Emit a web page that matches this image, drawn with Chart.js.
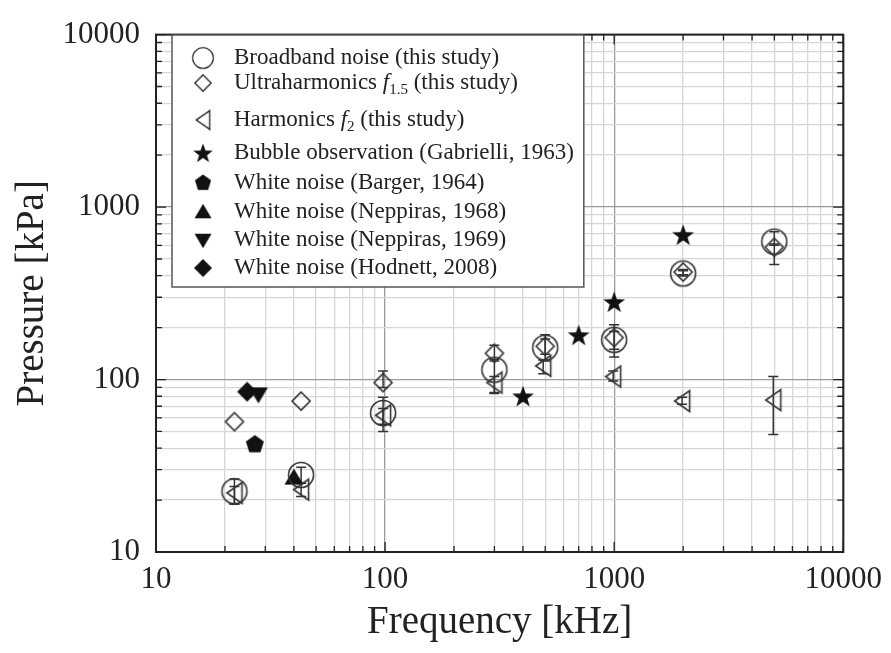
<!DOCTYPE html>
<html>
<head>
<meta charset="utf-8">
<title>Pressure threshold vs frequency</title>
<script src="https://cdn.jsdelivr.net/npm/chart.js@4.4.1/dist/chart.umd.min.js"></script>
<style>
  html, body { margin: 0; padding: 0; background: #fff; }
  canvas { display: block; }
</style>
</head>
<body>
<canvas id="pressureChart" width="891" height="653"></canvas>
<script>
// axis ticks (log decades + minor steps)
const decadeTicks = [10, 100, 1000, 10000];
const minorSteps = [1, 2, 3, 4, 5, 6, 7, 8, 9];

// this study
const studyFreq = [22, 43, 98, 300, 500, 1000, 2000, 5000];
const broadband = [22.5, 28, 64, 114, 153, 170, 412, 630];
const broadbandLow = [19, 25, 50, 84, 128, 135, 398, 600];
const broadbandHigh = [26.5, 31, 79, 131, 182, 208, 428, 720];

const ultraharm = [57, 75, 96, 142, 156, 175, 420, 585];
const ultraLow = [57, 75, 90, 128, 140, 150, 405, 465];
const ultraHigh = [57, 75, 112, 158, 172, 190, 435, 610];

const harmonicFreq = [22, 43, 98, 300, 490, 990, 1980, 4950];
const harmonic = [22, 23, 62, 96, 120, 104, 75, 76];
const harmonicLow = [19, 21, 55, 83, 108, 98, 72, 48];
const harmonicHigh = [24, 25, 68, 104, 130, 112, 79, 104];

// literature
const gabrielliFreq = [400, 700, 1000, 2000];
const gabrielliP = [80, 181, 282, 690];
const bargerFreq = [27];
const bargerP = [42];
const nepp68Freq = [40];
const nepp68P = [27];
const nepp69Freq = [28];
const nepp69P = [82];
const hodnettFreq = [25];
const hodnettP = [85];

const seriesLabels = [
  'Broadband noise (this study)',
  'Ultraharmonics f1.5 (this study)',
  'Harmonics f2 (this study)',
  'Bubble observation (Gabrielli, 1963)',
  'White noise (Barger, 1964)',
  'White noise (Neppiras, 1968)',
  'White noise (Neppiras, 1969)',
  'White noise (Hodnett, 2008)',
];

const SERIF = '"Liberation Serif", "Times New Roman", serif';
const INK = '#222';
const OPEN = '#333';

Chart.defaults.font.family = SERIF;
Chart.defaults.color = INK;

// ---- marker images ----
function makeMarker(size, draw) {
  const c = document.createElement('canvas');
  c.width = size; c.height = size;
  const g = c.getContext('2d');
  g.translate(size / 2, size / 2);
  draw(g);
  return c;
}
function poly(g, pts) {
  g.beginPath();
  pts.forEach(([px, py], i) => i ? g.lineTo(px, py) : g.moveTo(px, py));
  g.closePath();
}
function regular(n, r, rot) {
  const pts = [];
  for (let i = 0; i < n; i++) {
    const a = rot + i * 2 * Math.PI / n;
    pts.push([r * Math.cos(a), r * Math.sin(a)]);
  }
  return pts;
}
function openStroke(g) { g.strokeStyle = OPEN; g.lineWidth = 1.6; g.stroke(); }
function solidFill(g) { g.fillStyle = '#111'; g.fill(); }

const markers = {
  circle: makeMarker(30, g => { g.beginPath(); g.arc(0, 0, 12.5, 0, Math.PI * 2); openStroke(g); }),
  diamond: makeMarker(22, g => { poly(g, [[0, -9], [9, 0], [0, 9], [-9, 0]]); openStroke(g); }),
  triLeft: makeMarker(26, g => { poly(g, [[-7.5, 0], [7.5, -10.5], [7.5, 10.5]]); openStroke(g); }),
  star: makeMarker(26, g => {
    const pts = [];
    for (let i = 0; i < 10; i++) {
      const r = i % 2 ? 4.6 : 11.5;
      const a = -Math.PI / 2 + i * Math.PI / 5;
      pts.push([r * Math.cos(a), r * Math.sin(a) + 1]);
    }
    poly(g, pts); solidFill(g);
  }),
  pentagon: makeMarker(24, g => { poly(g, regular(5, 9.5, -Math.PI / 2)); solidFill(g); }),
  triUp: makeMarker(26, g => { poly(g, [[0, -9], [9.5, 7], [-9.5, 7]]); solidFill(g); }),
  triDown: makeMarker(26, g => { poly(g, [[0, 9], [9.5, -7], [-9.5, -7]]); solidFill(g); }),
  diamondFill: makeMarker(24, g => { poly(g, [[0, -10], [10, 0], [0, 10], [-10, 0]]); solidFill(g); }),
};

function points(xs, ys) { return xs.map((x, i) => ({ x, y: ys[i] })); }

const datasets = [
  { label: seriesLabels[0], data: points(studyFreq, broadband), pointStyle: markers.circle,
    errLow: broadbandLow, errHigh: broadbandHigh,
    rich: [['Broadband noise (this study)', 'n']] },
  { label: seriesLabels[1], data: points(studyFreq, ultraharm), pointStyle: markers.diamond,
    errLow: ultraLow, errHigh: ultraHigh,
    rich: [['Ultraharmonics ', 'n'], ['f', 'i'], ['1.5', 'sub'], [' (this study)', 'n']] },
  { label: seriesLabels[2], data: points(harmonicFreq, harmonic), pointStyle: markers.triLeft,
    errLow: harmonicLow, errHigh: harmonicHigh,
    rich: [['Harmonics ', 'n'], ['f', 'i'], ['2', 'sub'], [' (this study)', 'n']] },
  { label: seriesLabels[3], data: points(gabrielliFreq, gabrielliP), pointStyle: markers.star,
    rich: [[seriesLabels[3], 'n']] },
  { label: seriesLabels[4], data: points(bargerFreq, bargerP), pointStyle: markers.pentagon,
    rich: [[seriesLabels[4], 'n']] },
  { label: seriesLabels[5], data: points(nepp68Freq, nepp68P), pointStyle: markers.triUp,
    rich: [[seriesLabels[5], 'n']] },
  { label: seriesLabels[6], data: points(nepp69Freq, nepp69P), pointStyle: markers.triDown,
    rich: [[seriesLabels[6], 'n']] },
  { label: seriesLabels[7], data: points(hodnettFreq, hodnettP), pointStyle: markers.diamondFill,
    rich: [[seriesLabels[7], 'n']] },
].map(d => Object.assign({ pointRadius: 10, showLine: false }, d));

function logTicks() {
  const out = [];
  decadeTicks.slice(0, -1).forEach(d => minorSteps.forEach(m => out.push({ value: d * m, major: m === 1 })));
  out.push({ value: decadeTicks[decadeTicks.length - 1], major: true });
  return out;
}

// ---- plugins ----
const framePlugin = {
  id: 'frame',
  beforeDatasetsDraw(chart) {
    const { ctx, chartArea: a, scales: { x, y } } = chart;
    ctx.save();
    ctx.strokeStyle = INK;
    ctx.lineWidth = 1.3;
    ctx.beginPath();
    x.ticks.forEach(t => {
      const px = x.getPixelForValue(t.value);
      const len = decadeTicks.includes(t.value) ? 10 : 6;
      ctx.moveTo(px, a.bottom); ctx.lineTo(px, a.bottom - len);
      ctx.moveTo(px, a.top); ctx.lineTo(px, a.top + len);
    });
    y.ticks.forEach(t => {
      const py = y.getPixelForValue(t.value);
      const len = decadeTicks.includes(t.value) ? 10 : 6;
      ctx.moveTo(a.left, py); ctx.lineTo(a.left + len, py);
      ctx.moveTo(a.right, py); ctx.lineTo(a.right - len, py);
    });
    ctx.stroke();
    ctx.lineWidth = 2;
    ctx.strokeRect(a.left, a.top, a.right - a.left, a.bottom - a.top);
    ctx.restore();
  }
};

const legendPlugin = {
  id: 'boxLegend',
  beforeDatasetsDraw(chart) {
    const ctx = chart.ctx;
    const boxLeft = 172, boxTop = 35, boxBottom = 287;
    const symX = 203, textX = 234;
    const rowY = [58, 83, 120, 153, 183, 212, 240, 268];
    const fonts = {
      n: '23px ' + SERIF,
      i: 'italic 23px ' + SERIF,
      sub: '15px ' + SERIF,
    };
    ctx.save();
    const widths = chart.data.datasets.map(ds => ds.rich.reduce((w, [t, s]) => {
      ctx.font = fonts[s];
      return w + ctx.measureText(t).width;
    }, 0));
    const boxRight = textX + Math.max(...widths) + 10;
    ctx.fillStyle = '#fff';
    ctx.fillRect(boxLeft, boxTop, boxRight - boxLeft, boxBottom - boxTop);
    ctx.strokeStyle = '#555';
    ctx.lineWidth = 1.5;
    ctx.strokeRect(boxLeft, boxTop, boxRight - boxLeft, boxBottom - boxTop);

    chart.data.datasets.forEach((ds, i) => {
      const cy = rowY[i];
      const img = ds.pointStyle;
      const scale = i === 0 ? 0.82 : 0.9;
      ctx.drawImage(img, symX - img.width * scale / 2, cy - img.height * scale / 2, img.width * scale, img.height * scale);
      let cx = textX;
      ctx.fillStyle = INK;
      ctx.textBaseline = 'middle';
      ds.rich.forEach(([t, s]) => {
        ctx.font = fonts[s];
        ctx.fillText(t, cx, s === 'sub' ? cy + 7 : cy);
        cx += ctx.measureText(t).width;
      });
    });
    ctx.restore();
  }
};

const errorBarPlugin = {
  id: 'errorBars',
  beforeDatasetsDraw(chart) {
    const { ctx, scales: { x, y } } = chart;
    ctx.save();
    ctx.strokeStyle = OPEN;
    ctx.lineWidth = 1.5;
    chart.data.datasets.forEach(ds => {
      if (!ds.errLow) return;
      ds.data.forEach((p, i) => {
        const px = x.getPixelForValue(p.x);
        const yl = y.getPixelForValue(ds.errLow[i]);
        const yh = y.getPixelForValue(ds.errHigh[i]);
        if (Math.abs(yl - yh) < 1) return;
        ctx.beginPath();
        ctx.moveTo(px, yl); ctx.lineTo(px, yh);
        ctx.moveTo(px - 5, yl); ctx.lineTo(px + 5, yl);
        ctx.moveTo(px - 5, yh); ctx.lineTo(px + 5, yh);
        ctx.stroke();
      });
    });
    ctx.restore();
  }
};

function gridColor(c) {
  return decadeTicks.includes(c.tick.value) ? '#9a9a9a' : '#d6d6d6';
}
function tickLabel(v) {
  return decadeTicks.includes(v) ? String(v) : '';
}

new Chart(document.getElementById('pressureChart').getContext('2d'), {
  type: 'scatter',
  data: { datasets },
  options: {
    responsive: false,
    animation: false,
    devicePixelRatio: 1,
    layout: { padding: { left: 0, right: 46, top: 24, bottom: 0 } },
    plugins: { legend: { display: false }, tooltip: { enabled: false } },
    scales: {
      x: {
        type: 'logarithmic',
        position: 'bottom',
        min: 10, max: 10000,
        afterBuildTicks: s => { s.ticks = logTicks(); },
        afterFit: s => { s.height = 101; },
        border: { display: false },
        grid: { color: gridColor, lineWidth: 1.3, drawTicks: false },
        ticks: { callback: tickLabel, autoSkip: false, maxRotation: 0, padding: 9,
                 font: { size: 31 }, color: INK },
        title: { display: true, text: 'Frequency [kHz]', font: { size: 39 }, color: INK,
                 padding: { top: 0, bottom: 7 } },
      },
      y: {
        type: 'logarithmic',
        position: 'left',
        min: 10, max: 10000,
        afterBuildTicks: s => { s.ticks = logTicks(); },
        afterFit: s => { s.width = 156; },
        border: { display: false },
        grid: { color: gridColor, lineWidth: 1.3, drawTicks: false },
        ticks: { callback: tickLabel, autoSkip: false, padding: 16,
                 font: { size: 31 }, color: INK },
        title: { display: true, text: 'Pressure [kPa]', font: { size: 39 }, color: INK,
                 padding: { top: 9, bottom: 0 } },
      },
    },
  },
  plugins: [framePlugin, legendPlugin, errorBarPlugin],
});
</script>
</body>
</html>
